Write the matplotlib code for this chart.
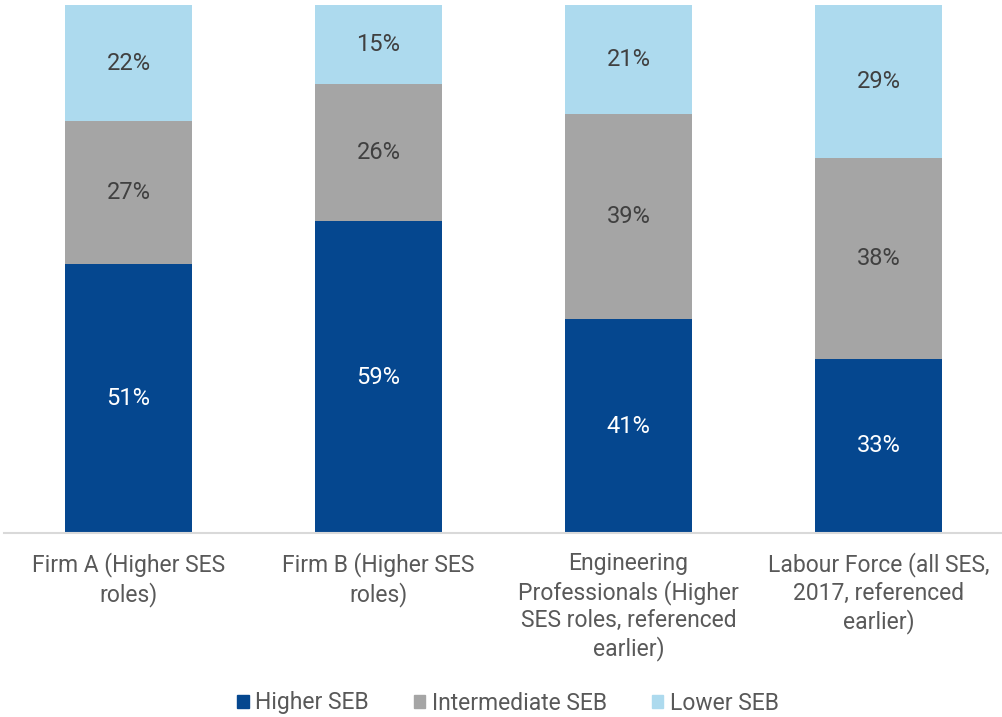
import matplotlib
matplotlib.use("Agg")
import matplotlib.pyplot as plt
from matplotlib.patches import Patch

plt.rcParams['font.family'] = ['Roboto', 'DejaVu Sans']

# Datos (porcentajes por categoría)
categorias = ["Firm A (Higher SES\nroles)",
              "Firm B (Higher SES\nroles)",
              "Engineering\nProfessionals (Higher\nSES roles, referenced\nearlier)",
              "Labour Force (all SES,\n2017, referenced\nearlier)"]
higher_seb = [51, 59, 40.5, 33]
intermediate_seb = [27, 26, 38.8, 38]
lower_seb = [22, 15, 20.7, 29]
series_names = ["Higher SEB", "Intermediate SEB", "Lower SEB"]
colores = ["#05478F", "#A5A5A5", "#ADDAEE"]
colores_texto = ["white", "#404040", "#404040"]

fig = plt.figure(figsize=(10.02, 7.17), dpi=100)
ax = fig.add_axes([3.5 / 1002, 184 / 717, 1000 / 1002, 528 / 717])

x = list(range(len(categorias)))
bottom = [0] * len(categorias)
for serie, color, tcolor in zip([higher_seb, intermediate_seb, lower_seb], colores, colores_texto):
    ax.bar(x, serie, bottom=bottom, width=0.508, color=color, zorder=2)
    for xi, b, v in zip(x, bottom, serie):
        ax.text(xi, b + v / 2, f"{int(v + 0.5)}%", ha='center', va='center',
                fontsize=17, color=tcolor)
    bottom = [b + v for b, v in zip(bottom, serie)]

ax.set_xlim(-0.5, 3.5)
ax.set_ylim(0, 100)
ax.set_yticks([])
ax.set_xticks(x)
ax.set_xticklabels(categorias, fontsize=16.5, color="#595959", linespacing=1.23)
ax.tick_params(axis='x', length=0, pad=14)
for lado in ['top', 'right', 'left']:
    ax.spines[lado].set_visible(False)
ax.spines['bottom'].set_color("#D9D9D9")
ax.spines['bottom'].set_linewidth(1.5)

handles = [Patch(color=c, label=n) for c, n in zip(colores, series_names)]
fig.legend(handles=handles, loc='center', bbox_to_anchor=(0.507, 1 - 703 / 717),
           ncol=3, frameon=False, fontsize=16.5, labelcolor="#595959",
           handlelength=0.5, handleheight=0.5, handletextpad=0.3, columnspacing=1.95)

fig.savefig("out.png", dpi=100)
